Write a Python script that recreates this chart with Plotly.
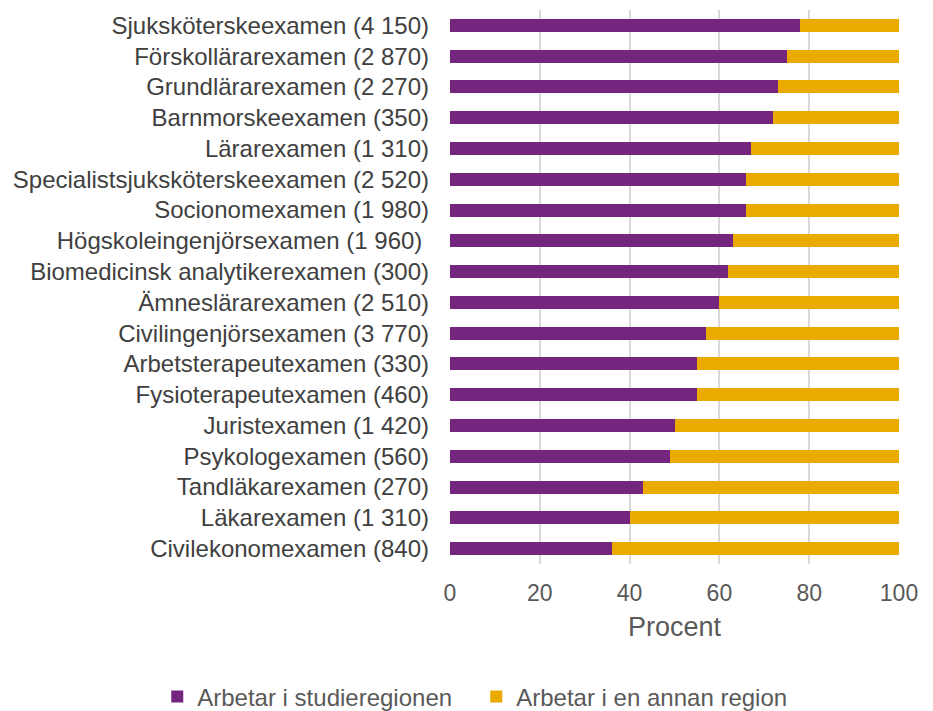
import plotly.graph_objects as go

categories = [
    "Sjuksköterskeexamen (4 150)",
    "Förskollärarexamen (2 870)",
    "Grundlärarexamen (2 270)",
    "Barnmorskeexamen (350)",
    "Lärarexamen (1 310)",
    "Specialistsjuksköterskeexamen (2 520)",
    "Socionomexamen (1 980)",
    "Högskoleingenjörsexamen (1 960) ",
    "Biomedicinsk analytikerexamen (300)",
    "Ämneslärarexamen (2 510)",
    "Civilingenjörsexamen (3 770)",
    "Arbetsterapeutexamen (330)",
    "Fysioterapeutexamen (460)",
    "Juristexamen (1 420)",
    "Psykologexamen (560)",
    "Tandläkarexamen (270)",
    "Läkarexamen (1 310)",
    "Civilekonomexamen (840)",
]
studieregion = [78, 75, 73, 72, 67, 66, 66, 63, 62, 60, 57, 55, 55, 50, 49, 43, 40, 36]
annan_region = [22, 25, 27, 28, 33, 34, 34, 37, 38, 40, 43, 45, 45, 50, 51, 57, 60, 64]

series_names = ["Arbetar i studieregionen", "Arbetar i en annan region"]
colors = ["#74267F", "#EAAA00"]

fig = go.Figure()
for name, vals, col in zip(series_names, [studieregion, annan_region], colors):
    fig.add_trace(go.Bar(
        y=categories, x=vals, name=name, orientation="h",
        marker=dict(color=col, line=dict(width=0)),
        width=0.42,
    ))

font_family = "Liberation Sans, Arial, sans-serif"
fig.update_layout(
    barmode="stack",
    width=925, height=703,
    margin=dict(l=442, r=34, t=2, b=147, autoexpand=False),
    plot_bgcolor="white", paper_bgcolor="white",
    font=dict(family=font_family, size=20, color="#595959"),
    showlegend=True,
    legend=dict(
        orientation="h", x=-0.652, xanchor="left", y=-0.24, yanchor="middle",
        font=dict(size=24, color="#595959"),
        traceorder="normal", entrywidth=274, entrywidthmode="pixels",
    ),
)
fig.update_xaxes(
    range=[0, 100], tickvals=[0, 20, 40, 60, 80, 100],
    showgrid=True, gridcolor="#D9D9D9", gridwidth=2,
    zeroline=False, showline=False, ticks="",
    tickfont=dict(size=23, color="#595959"),
    title=dict(text="Procent", font=dict(size=27, color="#595959"), standoff=12),
    ticklabelstandoff=13,
    automargin=False,
)
fig.update_yaxes(
    autorange="reversed", showgrid=False, zeroline=False, showline=False,
    ticks="", tickfont=dict(size=24, color="#404040"),
    ticklabelstandoff=20, automargin=False,
)

fig.write_html("out.html")
